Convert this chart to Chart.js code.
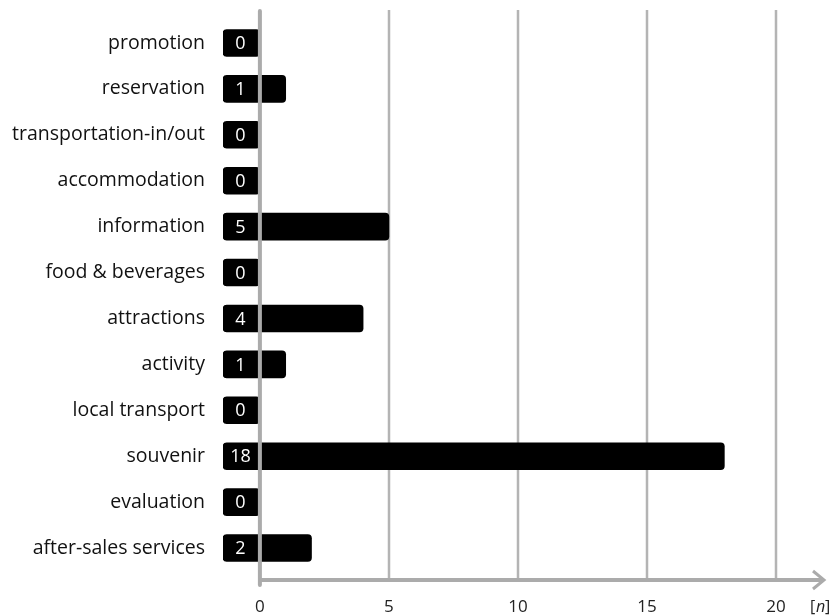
<!DOCTYPE html>
<html>
<head>
<meta charset="utf-8">
<script src="https://cdn.jsdelivr.net/npm/chart.js@4/dist/chart.umd.min.js"></script>
<style>
  html, body { margin: 0; padding: 0; background: #fff; }
  #wrap { width: 829px; height: 615px; position: relative; }
</style>
</head>
<body>
<div id="wrap"><canvas id="chart"></canvas></div>
<script>
// data
var categories = ['promotion', 'reservation', 'transportation-in/out', 'accommodation', 'information',
  'food & beverages', 'attractions', 'activity', 'local transport', 'souvenir', 'evaluation', 'after-sales services'];
var counts = [0, 1, 0, 0, 5, 0, 4, 1, 0, 18, 0, 2];
var xTicks = [0, 5, 10, 15, 20];

var fontFamily = '"Open Sans", "Noto Sans", sans-serif';
var boxStart = -1.43;   // the little value box sits left of the zero line
var xMax = 21.94;
var gridColor = '#b4b4b4';
var axisColor = '#ababab';

// floating bars: box + bar drawn as one rounded shape
var barData = counts.map(function(v) { return [boxStart, v]; });

function noPad(scale) {
  scale.paddingTop = 0;
  scale.paddingBottom = 0;
  scale.paddingLeft = 0;
  scale.paddingRight = 0;
}

var axesPlugin = {
  id: 'axesPlugin',
  beforeDatasetsDraw: function(chart) {
    var ctx = chart.ctx, x = chart.scales.x;
    ctx.save();
    ctx.strokeStyle = gridColor;
    ctx.lineWidth = 2.5;
    xTicks.forEach(function(t) {
      if (t === 0) return;
      var px = Math.round(x.getPixelForValue(t));
      ctx.beginPath();
      ctx.moveTo(px, 10);
      ctx.lineTo(px, 580);
      ctx.stroke();
    });
    ctx.restore();
  },
  afterDatasetsDraw: function(chart) {
    var ctx = chart.ctx, x = chart.scales.x;
    var x0 = x.getPixelForValue(0);
    var tip = chart.chartArea.right;
    ctx.save();
    // zero line
    ctx.strokeStyle = axisColor;
    ctx.lineWidth = 4;
    ctx.lineCap = 'round';
    ctx.beginPath();
    ctx.moveTo(x0, 11);
    ctx.lineTo(x0, 585);
    ctx.stroke();
    // x axis with arrow
    ctx.lineCap = 'butt';
    ctx.beginPath();
    ctx.moveTo(x0, 580);
    ctx.lineTo(tip - 3, 580);
    ctx.stroke();
    ctx.lineWidth = 3;
    ctx.lineJoin = 'miter';
    ctx.beginPath();
    ctx.moveTo(tip - 13, 571);
    ctx.lineTo(tip - 2, 580);
    ctx.lineTo(tip - 13, 589);
    ctx.stroke();

    // value labels in the boxes
    var meta = chart.getDatasetMeta(0);
    var cx = (x.getPixelForValue(boxStart) + x0) / 2 - 1;
    ctx.fillStyle = '#fff';
    ctx.font = '18px ' + fontFamily;
    ctx.textAlign = 'center';
    ctx.textBaseline = 'middle';
    meta.data.forEach(function(bar, i) {
      ctx.fillText(String(counts[i]), cx, bar.y + 1);
    });

    // unit label
    ctx.fillStyle = '#222';
    ctx.textAlign = 'left';
    ctx.font = '16px ' + fontFamily;
    ctx.fillText('[', 810, 607);
    ctx.font = 'italic 16px ' + fontFamily;
    ctx.fillText('n', 816, 607);
    ctx.font = '16px ' + fontFamily;
    ctx.fillText(']', 825, 607);
    ctx.restore();
  }
};

new Chart(document.getElementById('chart'), {
  type: 'bar',
  data: {
    labels: categories,
    datasets: [{
      data: barData,
      backgroundColor: '#000',
      borderRadius: 4,
      borderSkipped: false,
      barThickness: 27
    }]
  },
  options: {
    indexAxis: 'y',
    responsive: true,
    maintainAspectRatio: false,
    animation: false,
    layout: { padding: { top: 20, right: 3, left: 0, bottom: 0 } },
    plugins: { legend: { display: false }, tooltip: { enabled: false } },
    scales: {
      x: {
        min: boxStart,
        max: xMax,
        grid: { display: false, drawTicks: false },
        border: { display: false },
        afterBuildTicks: function(scale) {
          scale.ticks = xTicks.map(function(v) { return { value: v }; });
        },
        afterFit: function(scale) { scale.height = 44; noPad(scale); },
        ticks: {
          padding: 26,
          maxRotation: 0,
          color: '#222',
          font: { family: fontFamily, size: 17 }
        }
      },
      y: {
        grid: { display: false, drawTicks: false },
        border: { display: false },
        afterFit: function(scale) { scale.width = 223; noPad(scale); },
        ticks: {
          padding: 18,
          color: '#111',
          font: { family: fontFamily, size: 19.5 }
        }
      }
    }
  },
  plugins: [axesPlugin]
});
</script>
</body>
</html>
